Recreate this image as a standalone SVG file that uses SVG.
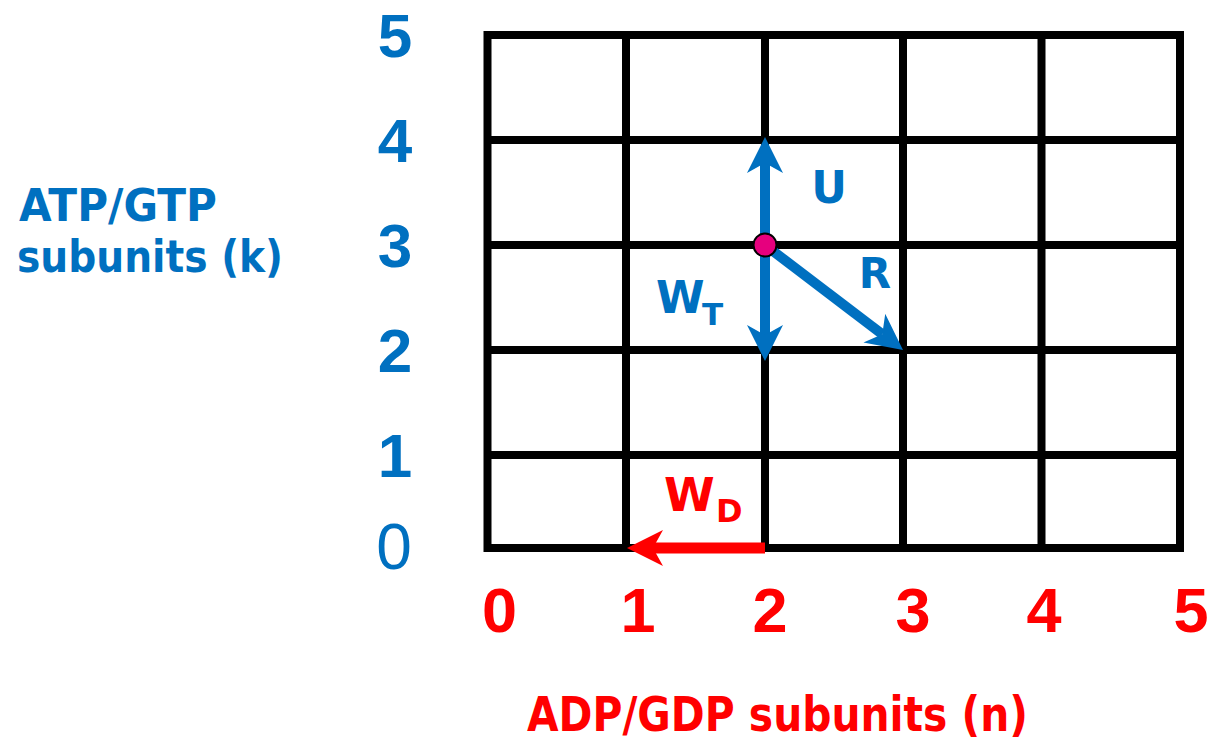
<svg xmlns="http://www.w3.org/2000/svg" width="1214" height="743" viewBox="0 0 1214 743">
<style>
.grid{fill:none;stroke:#000;stroke-width:8}
.b{fill:#0070C0}
.r{fill:#FF0000}
.num{font-family:"Liberation Sans",Arial,sans-serif;font-weight:bold;text-anchor:middle}
.lab{font-family:"DejaVu Sans",sans-serif;font-weight:bold}
.ab{stroke:#0070C0;stroke-width:10;fill:none}
.ar{stroke:#FF0000;stroke-width:11;fill:none}
</style>
<defs>
<marker id="hb" viewBox="0 0 36 36" refX="10" refY="18" markerWidth="36" markerHeight="36" markerUnits="userSpaceOnUse" orient="auto">
<path d="M0,0 L36,18 L0,36 L10,18 Z" fill="#0070C0"/>
</marker>
<marker id="hr" viewBox="0 0 36 36" refX="10" refY="18" markerWidth="36" markerHeight="36" markerUnits="userSpaceOnUse" orient="auto">
<path d="M0,0 L36,18 L0,36 L10,18 Z" fill="#FF0000"/>
</marker>
</defs>
<rect width="1214" height="743" fill="#fff"/>
<g id="grid">
<rect class="grid" x="487.5" y="35" width="692.5" height="513"/>
<path class="grid" d="M626,35V548M765,35V548M903,35V548M1041.5,35V548M487.5,140H1180M487.5,245H1180M487.5,350H1180M487.5,455H1180"/>
</g>
<g id="y-axis" class="b">
<text class="num" x="395" y="57" font-size="62">5</text>
<text class="num" x="395" y="162" font-size="62">4</text>
<text class="num" x="395" y="267" font-size="62">3</text>
<text class="num" x="395" y="372" font-size="62">2</text>
<text class="num" x="395" y="477" font-size="62">1</text>
<text x="394" y="569" font-size="64" font-family="'Liberation Sans',Arial,sans-serif" text-anchor="middle">0</text>
</g>
<g id="x-axis" class="r">
<text class="num" x="499.5" y="632" font-size="63">0</text>
<text class="num" x="638" y="632" font-size="63">1</text>
<text class="num" x="770" y="632" font-size="63">2</text>
<text class="num" x="913" y="632" font-size="63">3</text>
<text class="num" x="1044" y="632" font-size="63">4</text>
<text class="num" x="1191" y="632" font-size="63">5</text>
</g>
<g id="y-label" class="b lab">
<text x="19" y="221" font-size="44" textLength="198" lengthAdjust="spacingAndGlyphs">ATP/GTP</text>
<text x="17" y="272" font-size="44" textLength="266" lengthAdjust="spacingAndGlyphs">subunits (k)</text>
</g>
<g id="x-label" class="r lab">
<text x="527" y="731" font-size="48" textLength="501" lengthAdjust="spacingAndGlyphs">ADP/GDP subunits (n)</text>
</g>
<g id="connectors">
<line id="U" class="ab" x1="765" y1="245" x2="765" y2="163" marker-end="url(#hb)"/>
<line id="WT" class="ab" x1="765" y1="245" x2="765" y2="335" marker-end="url(#hb)"/>
<line id="R" class="ab" x1="765" y1="245" x2="882.3" y2="334.2" marker-end="url(#hb)"/>
<line id="WD" class="ar" x1="765" y1="548" x2="653" y2="548" marker-end="url(#hr)"/>
</g>
<g id="state-node">
<circle cx="765" cy="245" r="11.5" fill="#E6007E" stroke="#000" stroke-width="2"/>
</g>
<g id="arrow-labels" class="lab">
<text class="b" x="829" y="203" font-size="44" text-anchor="middle">U</text>
<text class="b" x="875" y="288" font-size="42" text-anchor="middle">R</text>
<text class="b" x="656" y="313" font-size="44">W</text>
<text class="b" x="702" y="325" font-size="31">T</text>
<text class="r" x="664" y="511" font-size="46">W</text>
<text class="r" x="716" y="522" font-size="32">D</text>
</g>
</svg>
